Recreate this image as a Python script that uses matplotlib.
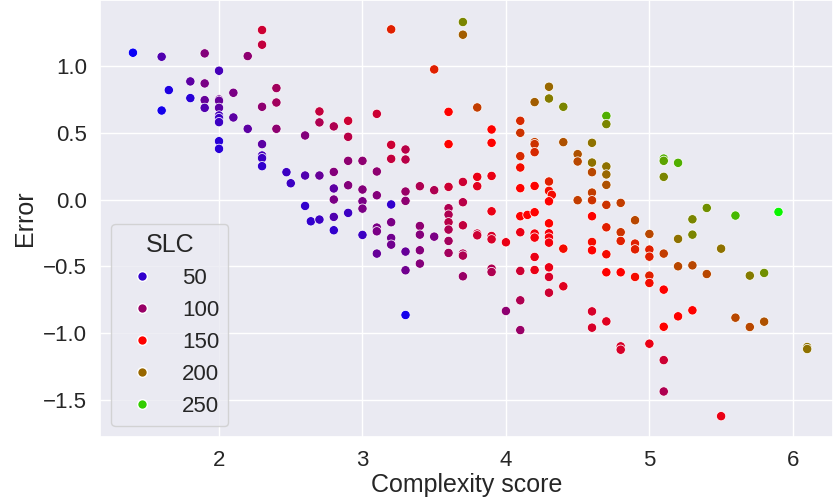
import matplotlib
matplotlib.use("Agg")
import matplotlib.pyplot as plt
import numpy as np
import pandas as pd
import seaborn as sns

# complexity score, error, SLC
complexity = [
    1.4, 1.6, 1.9, 2.2, 2.3, 2.3, 2.0, 1.8, 1.9, 1.65,
    1.6, 1.8, 1.9, 1.9, 2.0, 2.0, 2.0, 2.0, 2.0, 2.0,
    2.1, 2.1, 2.2, 2.3, 2.4, 2.4, 2.4, 2.0, 2.0, 2.3,
    2.3, 2.3, 2.3, 2.47, 2.5, 2.6, 2.7, 2.7, 2.7, 2.8,
    2.9, 2.9, 2.6, 2.8, 2.9, 2.8, 2.9, 2.8, 2.6, 2.64,
    2.7, 2.8, 2.8, 2.9,
    3.2, 3.7, 3.7, 3.5, 3.6, 3.8, 3.1, 3.2, 3.3, 3.2,
    3.3, 3.0, 3.1, 3.6, 3.9, 3.9, 4.1, 4.1, 4.2, 4.3,
    4.3, 4.4, 4.2, 4.2, 4.2, 4.1, 4.1, 4.4, 4.5, 4.5,
    4.6, 4.6, 4.6, 4.6, 4.5, 3.0, 3.1, 3.0, 3.0, 3.2,
    3.3, 3.3, 3.4, 3.5, 3.6, 3.7, 3.8, 3.8, 3.9, 3.7,
    3.6, 3.6, 3.9, 4.1, 4.15, 4.2, 4.3, 4.3, 4.32, 4.3,
    4.1, 4.2,
    3.0, 3.1, 3.1, 3.2, 3.2, 3.2, 3.1, 3.3, 3.3, 3.3,
    3.4, 3.4, 3.4, 3.4, 3.5, 3.6, 3.6, 3.6, 3.6, 3.7,
    3.7, 3.7, 3.7, 3.8, 3.8, 3.9, 3.9, 3.9, 3.9, 4.0,
    4.0, 4.1, 4.1, 4.1, 4.1, 4.2, 4.2, 4.2, 4.2, 4.3,
    4.3, 4.3, 4.3, 4.3, 4.3, 4.3, 4.4, 4.4,
    4.7, 4.7, 4.7, 4.7, 4.7, 4.6, 4.7, 4.8, 5.1, 5.1,
    5.2, 5.1, 5.4, 5.6, 5.9, 5.3, 4.6, 4.9, 4.7, 4.8,
    5.0, 5.2, 5.3, 5.5, 4.6, 4.6, 4.7, 4.8, 4.9, 4.9,
    5.0, 5.0, 5.1, 4.7, 4.8, 4.9, 5.0, 5.0, 5.1, 5.2,
    5.3, 5.4, 5.7, 5.8, 4.6, 4.6, 4.7, 4.8, 4.8, 5.0,
    5.1, 5.2, 5.3, 5.1, 5.1, 5.5, 5.6, 5.7, 5.8, 6.1,
    6.1,
]
error = [
    1.10, 1.07, 1.095, 1.075, 1.27, 1.16, 0.965, 0.885, 0.87, 0.82,
    0.667, 0.76, 0.745, 0.687, 0.75, 0.74, 0.687, 0.63, 0.61, 0.58,
    0.80, 0.615, 0.53, 0.695, 0.835, 0.727, 0.53, 0.437, 0.38, 0.415,
    0.33, 0.31, 0.25, 0.205, 0.122, 0.18, 0.18, 0.66, 0.578, 0.548,
    0.59, 0.47, 0.48, 0.207, 0.29, 0.083, 0.107, 0.0, -0.048, -0.163,
    -0.15, -0.13, -0.23, -0.10,
    1.275, 1.33, 1.235, 0.975, 0.657, 0.69, 0.642, 0.41, 0.375, 0.305,
    0.30, 0.29, 0.21, 0.415, 0.525, 0.425, 0.59, 0.50, 0.73, 0.845,
    0.757, 0.695, 0.43, 0.415, 0.355, 0.325, 0.24, 0.43, 0.34, 0.285,
    0.425, 0.277, 0.205, 0.052, -0.005, 0.075, 0.032, -0.013, -0.068, -0.037,
    0.06, -0.01, 0.10, 0.07, 0.095, 0.132, 0.17, 0.10, 0.177, -0.02,
    -0.065, -0.113, -0.088, -0.125, -0.115, -0.095, 0.135, 0.065, 0.035, -0.013,
    0.085, 0.102,
    -0.265, -0.21, -0.238, -0.17, -0.288, -0.338, -0.405, -0.39, -0.53, -0.865,
    -0.198, -0.263, -0.38, -0.48, -0.278, -0.17, -0.225, -0.31, -0.40, -0.193,
    -0.405, -0.42, -0.575, -0.255, -0.268, -0.273, -0.298, -0.518, -0.543, -0.32,
    -0.835, -0.245, -0.535, -0.755, -0.978, -0.255, -0.285, -0.43, -0.528, -0.178,
    -0.253, -0.285, -0.323, -0.508, -0.58, -0.698, -0.368, -0.65,
    0.627, 0.565, 0.248, 0.188, 0.11, -0.005, -0.04, -0.025, 0.307, 0.29,
    0.275, 0.17, -0.063, -0.12, -0.093, -0.148, -0.125, -0.155, -0.208, -0.245,
    -0.258, -0.295, -0.263, -0.368, -0.318, -0.38, -0.41, -0.31, -0.33, -0.373,
    -0.375, -0.428, -0.405, -0.545, -0.545, -0.58, -0.57, -0.625, -0.675, -0.50,
    -0.493, -0.558, -0.57, -0.55, -0.838, -0.96, -0.913, -1.10, -1.125, -1.08,
    -0.953, -0.875, -0.83, -1.203, -1.438, -1.623, -0.885, -0.955, -0.915, -1.105,
    -1.12,
]
slc = [
    30, 65, 90, 95, 125, 120, 60, 70, 85, 40,
    35, 45, 75, 65, 80, 75, 70, 60, 55, 55,
    85, 70, 70, 95, 105, 105, 95, 45, 45, 70,
    60, 55, 50, 55, 55, 65, 75, 120, 110, 110,
    125, 115, 90, 90, 95, 70, 90, 85, 50, 50,
    55, 65, 50, 55,
    165, 215, 195, 165, 150, 180, 125, 125, 115, 120,
    115, 95, 95, 150, 150, 150, 170, 175, 195, 200,
    210, 215, 180, 175, 170, 170, 155, 190, 190, 185,
    205, 205, 185, 180, 180, 90, 90, 85, 85, 50,
    100, 95, 110, 110, 125, 125, 140, 135, 140, 115,
    110, 110, 140, 150, 150, 150, 165, 155, 155, 150,
    150, 150,
    55, 85, 85, 85, 80, 80, 75, 75, 80, 35,
    95, 90, 90, 90, 85, 115, 110, 105, 105, 120,
    110, 110, 100, 125, 125, 130, 130, 110, 110, 140,
    95, 140, 125, 110, 100, 145, 145, 140, 140, 150,
    145, 145, 145, 140, 130, 125, 155, 135,
    235, 215, 205, 200, 190, 175, 175, 180, 235, 230,
    235, 215, 220, 240, 270, 215, 150, 185, 165, 175,
    185, 205, 215, 205, 155, 150, 155, 165, 165, 165,
    165, 165, 180, 150, 150, 155, 165, 155, 150, 185,
    185, 185, 210, 220, 130, 130, 135, 130, 130, 140,
    150, 150, 150, 125, 110, 140, 185, 185, 190, 205,
    205,
]
legend_levels = [50, 100, 150, 200, 250]

df = pd.DataFrame({"Complexity score": complexity, "Error": error, "SLC": slc})

sns.set_theme(style="darkgrid", font_scale=1.5)
plt.rcParams["font.family"] = ["Liberation Sans", "DejaVu Sans"]

fig = plt.figure(figsize=(8.33, 4.99), dpi=100)
ax = fig.add_axes([0.12, 0.124, 0.88, 0.876])
norm = plt.Normalize(25, 275)
cmap = plt.get_cmap("brg")
sns.scatterplot(data=df, x="Complexity score", y="Error", hue="SLC",
                palette="brg", hue_norm=norm, s=45, legend=False, ax=ax)
ax.set_xlim(1.17, 6.28)
ax.set_ylim(-1.78, 1.495)
ax.tick_params(labelsize=16)
ax.set_xlabel("Complexity score", fontsize=18, labelpad=1)
ax.set_ylabel("Error", fontsize=18)

handles = [plt.Line2D([], [], marker="o", linestyle="", markersize=7,
                      markerfacecolor=cmap(norm(v)), markeredgecolor="white")
           for v in legend_levels]
ax.legend(handles, [str(v) for v in legend_levels], title="SLC",
          loc="lower left", fontsize=16, title_fontsize=18)

fig.savefig("out.png", dpi=100)
